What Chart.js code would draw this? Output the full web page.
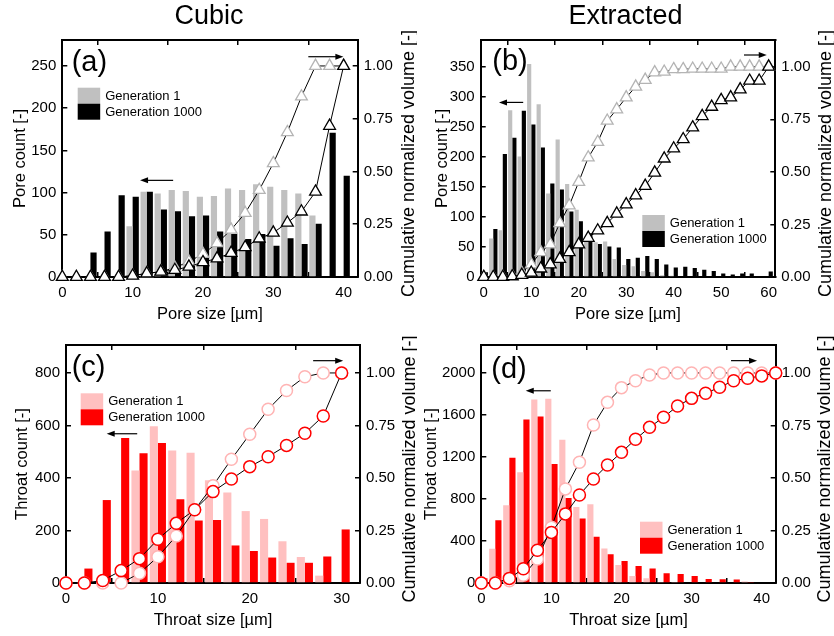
<!DOCTYPE html>
<html>
<head>
<meta charset="utf-8">
<script src="https://cdn.jsdelivr.net/npm/chart.js@4/dist/chart.umd.min.js"></script>
<style>
  html, body { margin: 0; padding: 0; background: #ffffff; }
  #wrap { position: relative; width: 834px; height: 636px; overflow: hidden; background: #ffffff; }
  canvas { position: absolute; }
</style>
</head>
<body>
<div id="wrap">
  <canvas id="panelA" width="417" height="330" style="left:0px;top:0px"></canvas>
  <canvas id="panelB" width="417" height="330" style="left:417px;top:0px"></canvas>
  <canvas id="panelC" width="417" height="318" style="left:0px;top:318px"></canvas>
  <canvas id="panelD" width="417" height="318" style="left:417px;top:318px"></canvas>
</div>
<script>
// ---------- data: cubic network, pores ----------
const cubicPoreSize = [0, 2, 4, 6, 8, 10, 12, 14, 16, 18, 20, 22, 24, 26, 28, 30, 32, 34, 36, 38, 40];
const cubicPoreCountGen1 = [0, 0, 0, 0, 0, 60, 101, 99, 103, 102, 95, 96, 105, 103, 110, 107, 103, 99, 73, 0, 0];
const cubicPoreCountGen1000 = [0, 0, 29, 54, 97, 95, 101, 80, 78, 72, 73, 54, 51, 45, 51, 37, 46, 39, 63, 171, 120];
const cubicPoreCumGen1 = [0, 0, 0, 0, 0, 0.006, 0.017, 0.025, 0.044, 0.073, 0.109, 0.16, 0.224, 0.303, 0.412, 0.539, 0.686, 0.855, 1.0, 1.0, 1.0];
const cubicPoreCumGen1000 = [0, 0, 0, 0, 0, 0.006, 0.017, 0.025, 0.033, 0.049, 0.07, 0.088, 0.114, 0.141, 0.182, 0.21, 0.257, 0.31, 0.404, 0.716, 1.0];

// ---------- data: extracted network, pores ----------
const extractedPoreSize = [0, 2, 4, 6, 8, 10, 12, 14, 16, 18, 20, 22, 24, 26, 28, 30, 32, 34, 36, 38, 40, 42, 44, 46, 48, 50, 52, 54, 56, 58, 60];
const extractedPoreCountGen1 = [0, 64, 78, 278, 201, 355, 288, 139, 229, 155, 112, 61, 58, 59, 30, 20, 18, 10, 8, 3, 2, 0, 0, 0, 0, 0, 0, 0, 0, 0, 0];
const extractedPoreCountGen1000 = [8, 80, 205, 232, 277, 254, 216, 156, 146, 109, 93, 73, 55, 51, 49, 30, 32, 35, 30, 21, 16, 17, 15, 12, 10, 6, 4, 6, 6, 1, 9];
const extractedPoreCumGen1 = [0, 0, 0, 0.005, 0.02, 0.06, 0.118, 0.155, 0.256, 0.34, 0.452, 0.568, 0.642, 0.743, 0.797, 0.854, 0.905, 0.937, 0.973, 0.976, 0.988, 0.988, 0.99, 0.99, 0.99, 0.99, 1.0, 1.0, 1.0, 1.0, 1.0];
const extractedPoreCumGen1000 = [0, 0, 0, 0.003, 0.01, 0.02, 0.04, 0.06, 0.086, 0.118, 0.155, 0.186, 0.221, 0.256, 0.301, 0.345, 0.388, 0.433, 0.496, 0.563, 0.611, 0.655, 0.711, 0.765, 0.809, 0.841, 0.854, 0.892, 0.933, 0.933, 1.0];

// ---------- data: cubic network, throats ----------
const cubicThroatSize = [0, 2, 4, 6, 8, 10, 12, 14, 16, 18, 20, 22, 24, 26, 28, 30];
const cubicThroatCountGen1 = [0, 0, 0, 0, 429, 597, 505, 496, 391, 345, 274, 244, 159, 99, 28, 0];
const cubicThroatCountGen1000 = [0, 55, 316, 552, 494, 533, 319, 238, 240, 143, 122, 97, 77, 77, 101, 204];
const cubicThroatCumGen1 = [0, 0, 0, 0, 0.046, 0.125, 0.224, 0.349, 0.463, 0.589, 0.708, 0.827, 0.916, 0.982, 1.0, 1.0];
const cubicThroatCumGen1000 = [0, 0, 0.012, 0.059, 0.116, 0.208, 0.284, 0.349, 0.435, 0.495, 0.554, 0.601, 0.655, 0.713, 0.795, 1.0];

// ---------- data: extracted network, throats ----------
const extractedThroatSize = [0, 2, 4, 6, 8, 10, 12, 14, 16, 18, 20, 22, 24, 26, 28, 30, 32, 34, 36, 38, 40, 42];
const extractedThroatCountGen1 = [0, 326, 741, 1054, 1747, 1754, 1365, 725, 750, 329, 171, 66, 45, 10, 5, 0, 0, 0, 0, 15, 0, 0];
const extractedThroatCountGen1000 = [45, 598, 1194, 1557, 1586, 1133, 810, 614, 440, 275, 209, 161, 139, 92, 85, 66, 38, 36, 33, 5, 0, 0];
const extractedThroatCumGen1 = [0, 0, 0.011, 0.037, 0.114, 0.265, 0.448, 0.575, 0.752, 0.86, 0.93, 0.963, 0.99, 1.0, 1.0, 1.0, 1.0, 1.0, 1.0, 1.0, 1.0, 1.0];
const extractedThroatCumGen1000 = [0, 0, 0.022, 0.068, 0.156, 0.241, 0.329, 0.419, 0.495, 0.562, 0.622, 0.684, 0.741, 0.789, 0.843, 0.879, 0.903, 0.932, 0.963, 0.975, 0.986, 1.0];

// ---------- tick values ----------
const cubicPoreSizeTicks = [0, 10, 20, 30, 40];
const extractedPoreSizeTicks = [0, 10, 20, 30, 40, 50, 60];
const cubicThroatSizeTicks = [0, 10, 20, 30];
const extractedThroatSizeTicks = [0, 10, 20, 30, 40];
const cubicPoreCountTicks = [0, 50, 100, 150, 200, 250];
const extractedPoreCountTicks = [0, 50, 100, 150, 200, 250, 300, 350];
const cubicThroatCountTicks = [0, 200, 400, 600, 800];
const extractedThroatCountTicks = [0, 400, 800, 1200, 1600, 2000];
const volumeTicks = [0, 0.25, 0.5, 0.75, 1.0];

const seriesLabels = ['Generation 1', 'Generation 1000'];
const rightAxisTitle = 'Cumulative normalized volume [-]';

// ---------- styling ----------
const FONT = "'Liberation Sans', Arial, Helvetica, sans-serif";
Chart.defaults.font.family = FONT;
Chart.defaults.color = '#000';

const GREY = '#c0c0c0', BLACK = '#000000';
const PINK = '#ffc0c0', RED = '#ff0000';

// Draws the header, panel tag, direction arrows, legend and right axis title.
function makeDecor(d) {
  return {
    id: 'decor' + d.tag,
    afterDraw(chart) {
      const ctx = chart.ctx;
      const area = chart.chartArea;
      const sx = chart.scales.x, sy = chart.scales.y;
      ctx.save();
      ctx.fillStyle = '#000';
      ctx.strokeStyle = '#000';

      if (d.header) {
        ctx.font = '27px ' + FONT;
        ctx.textAlign = 'center';
        ctx.textBaseline = 'middle';
        ctx.fillText(d.header, d.headerX, d.headerY);
      }

      ctx.font = '29px ' + FONT;
      ctx.textAlign = 'left';
      ctx.textBaseline = 'middle';
      ctx.fillText(d.tag, area.left + d.tagDx, area.top + d.tagDy);

      // arrows pointing at the axis each series belongs to
      ctx.lineWidth = 1.2;
      for (const a of d.arrows) {
        const x0 = sx.getPixelForValue(a.from);
        const x1 = sx.getPixelForValue(a.to);
        const y = sy.getPixelForValue(a.y);
        const dir = Math.sign(x1 - x0);
        ctx.beginPath();
        ctx.moveTo(x0, y);
        ctx.lineTo(x1 - dir * 5, y);
        ctx.stroke();
        ctx.beginPath();
        ctx.moveTo(x1, y);
        ctx.lineTo(x1 - dir * 8, y - 3);
        ctx.lineTo(x1 - dir * 8, y + 3);
        ctx.closePath();
        ctx.fill();
      }

      // legend for the histogram series
      const bars = chart.data.datasets.filter(ds => ds.type === 'bar');
      ctx.font = '13px ' + FONT;
      ctx.textBaseline = 'middle';
      ctx.textAlign = 'left';
      bars.forEach((ds, i) => {
        const top = d.legendY + i * 16;
        ctx.fillStyle = ds.backgroundColor;
        ctx.fillRect(d.legendX, top, 22.5, 16);
        ctx.fillStyle = '#000';
        ctx.fillText(ds.label, d.legendX + 27.5, top + 8.5);
      });

      // right axis title, reading upwards
      ctx.font = '18px ' + FONT;
      ctx.textAlign = 'center';
      ctx.textBaseline = 'middle';
      ctx.translate(d.rightTitleX, (area.top + area.bottom) / 2 + 5);
      ctx.rotate(-Math.PI / 2);
      ctx.fillText(rightAxisTitle, 0, 0);
      ctx.restore();
    }
  };
}

function axisStyle() {
  return {
    grid: { drawOnChartArea: false, drawTicks: true, tickLength: -5, color: '#000', lineWidth: 1.5 },
    border: { display: true, color: '#000', width: 2 }
  };
}

const fixedTicks = values => scale => { scale.ticks = values.map(v => ({ value: v })); };

function makePanel(p) {
  const pts = (xs, ys) => xs.map((x, i) => ({ x: x, y: ys[i] }));
  const lineDs = (label, ys, markerColor, order) => ({
    type: 'line', label: label, data: pts(p.sizes, ys), yAxisID: 'y2', xAxisID: 'x', order: order,
    borderColor: '#000', borderWidth: 1, tension: 0, clip: false,
    pointStyle: p.marker, pointRadius: p.markerRadius, pointBorderWidth: p.markerBorder,
    pointBorderColor: markerColor, pointBackgroundColor: '#ffffff'
  });
  const barDs = (label, ys, color) => ({
    type: 'bar', label: label, data: pts(p.sizes, ys), yAxisID: 'y', xAxisID: 'x', order: 2,
    backgroundColor: color, borderWidth: 0, categoryPercentage: 0.88, barPercentage: 1
  });
  const ax = axisStyle();
  const tickFont = { size: 15 };
  return new Chart(document.getElementById(p.id), {
    type: 'bar',
    data: {
      datasets: [
        lineDs(seriesLabels[1], p.cum1000, p.colors[1], 0),
        lineDs(seriesLabels[0], p.cum1, p.colors[0] === GREY ? '#b4b4b4' : '#ffb4b4', 1),
        barDs(seriesLabels[0], p.count1, p.colors[0]),
        barDs(seriesLabels[1], p.count1000, p.colors[1])
      ]
    },
    options: {
      responsive: false,
      animation: false,
      events: [],
      layout: { padding: { top: p.padTop, left: 0, right: 0, bottom: 0 } },
      plugins: { legend: { display: false }, tooltip: { enabled: false } },
      scales: {
        x: {
          type: 'linear', position: 'bottom', min: p.xMin, max: p.xMax, offset: false,
          afterBuildTicks: fixedTicks(p.xTicks),
          ticks: { font: tickFont, color: '#000', padding: 12, maxRotation: 0, autoSkip: false,
                   callback: v => String(v) },
          grid: ax.grid, border: ax.border,
          title: { display: true, text: p.xTitle, font: { size: 16.5 }, color: '#000', padding: { top: 0, bottom: 6 } },
          afterFit: s => { s.height = p.xH; }
        },
        xTop: {
          type: 'linear', position: 'top', min: p.xMin, max: p.xMax, offset: false,
          afterBuildTicks: fixedTicks(p.xTicks),
          ticks: { display: false },
          grid: ax.grid, border: ax.border,
          afterFit: s => { s.height = 0; }
        },
        y: {
          type: 'linear', position: 'left', min: 0, max: p.yMax,
          afterBuildTicks: fixedTicks(p.yTicks),
          ticks: { font: tickFont, color: '#000', padding: 11, callback: v => String(v) },
          grid: ax.grid, border: ax.border,
          title: { display: true, text: p.yTitle, font: { size: 16.5 }, color: '#000', padding: { top: p.yTitlePad, bottom: 0 } },
          afterFit: s => { s.width = p.yW; }
        },
        y2: {
          type: 'linear', position: 'right', min: 0, max: p.y2Max,
          afterBuildTicks: fixedTicks(volumeTicks),
          ticks: { font: tickFont, color: '#000', padding: 11, callback: v => v.toFixed(2) },
          grid: ax.grid, border: ax.border,
          afterFit: s => { s.width = p.y2W; }
        }
      }
    },
    plugins: [makeDecor(p.decor)]
  });
}

makePanel({
  id: 'panelA', sizes: cubicPoreSize, count1: cubicPoreCountGen1, count1000: cubicPoreCountGen1000,
  cum1: cubicPoreCumGen1, cum1000: cubicPoreCumGen1000, colors: [GREY, BLACK],
  xTicks: cubicPoreSizeTicks, yTicks: cubicPoreCountTicks,
  marker: 'triangle', markerRadius: 6.8, markerBorder: 1.3,
  padTop: 40, xH: 53, yW: 62.3, y2W: 59.3, xMin: 0, xMax: 42, yMax: 280.8, y2Max: 1.123,
  xTitle: 'Pore size [µm]', yTitle: 'Pore count [-]', yTitlePad: 10.8,
  decor: { header: 'Cubic', headerX: 209, headerY: 17, tag: '(a)', tagDx: 9.4, tagDy: 23,
           arrows: [{ from: 15.76, to: 11.06, y: 114.5 }, { from: 34.98, to: 39.96, y: 261 }],
           legendX: 77.7, legendY: 87.7, rightTitleX: 409 }
});

makePanel({
  id: 'panelB', sizes: extractedPoreSize, count1: extractedPoreCountGen1, count1000: extractedPoreCountGen1000,
  cum1: extractedPoreCumGen1, cum1000: extractedPoreCumGen1000, colors: [GREY, BLACK],
  xTicks: extractedPoreSizeTicks, yTicks: extractedPoreCountTicks,
  marker: 'triangle', markerRadius: 6.8, markerBorder: 1.3,
  padTop: 40, xH: 53, yW: 63.7, y2W: 58.7, xMin: -0.65, xMax: 61.4, yMax: 395, y2Max: 1.127,
  xTitle: 'Pore size [µm]', yTitle: 'Pore count [-]', yTitlePad: 16,
  decor: { header: 'Extracted', headerX: 208.5, headerY: 17, tag: '(b)', tagDx: 11.6, tagDy: 21.5,
           arrows: [{ from: 8.3, to: 3.2, y: 291 }, { from: 54.8, to: 59.6, y: 370 }],
           legendX: 225.3, legendY: 215, rightTitleX: 409 }
});

makePanel({
  id: 'panelC', sizes: cubicThroatSize, count1: cubicThroatCountGen1, count1000: cubicThroatCountGen1000,
  cum1: cubicThroatCumGen1, cum1000: cubicThroatCumGen1000, colors: [PINK, RED],
  xTicks: cubicThroatSizeTicks, yTicks: cubicThroatCountTicks,
  marker: 'circle', markerRadius: 6, markerBorder: 1.5,
  padTop: 27, xH: 53, yW: 66, y2W: 57, xMin: 0, xMax: 32, yMax: 906.7, y2Max: 1.133,
  xTitle: 'Throat size [µm]', yTitle: 'Throat count [-]', yTitlePad: 13,
  decor: { tag: '(c)', tagDx: 5.7, tagDy: 23.3,
           arrows: [{ from: 7.75, to: 4.43, y: 568.6 }, { from: 26.9, to: 30.17, y: 847 }],
           legendX: 80.7, legendY: 75.3, rightTitleX: 410 }
});

makePanel({
  id: 'panelD', sizes: extractedThroatSize, count1: extractedThroatCountGen1, count1000: extractedThroatCountGen1000,
  cum1: extractedThroatCumGen1, cum1000: extractedThroatCumGen1000, colors: [PINK, RED],
  xTicks: extractedThroatSizeTicks, yTicks: extractedThroatCountTicks,
  marker: 'circle', markerRadius: 6, markerBorder: 1.5,
  padTop: 27, xH: 53, yW: 64.3, y2W: 58.3, xMin: 0, xMax: 42, yMax: 2267, y2Max: 1.133,
  xTitle: 'Throat size [µm]', yTitle: 'Throat count [-]', yTitlePad: 4.6,
  decor: { tag: '(d)', tagDx: 10, tagDy: 25,
           arrows: [{ from: 9.91, to: 6.34, y: 1831 }, { from: 35.63, to: 39.34, y: 2118 }],
           legendX: 223, legendY: 203.7, rightTitleX: 408 }
});
</script>
</body>
</html>
